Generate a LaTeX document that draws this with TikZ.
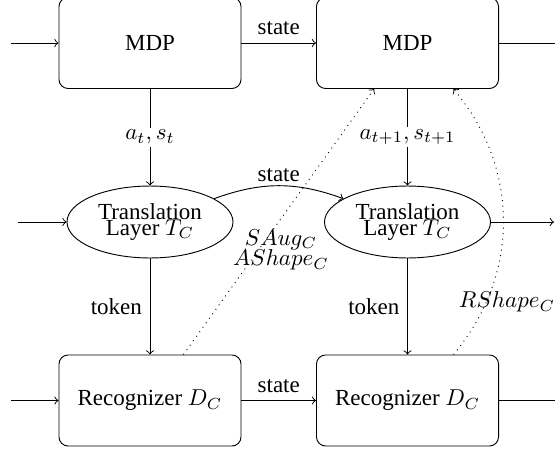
\documentclass[tikz,border=0pt]{standalone}
\usepackage[no-math]{fontspec}
\setmainfont{Liberation Serif}
\usetikzlibrary{shapes.geometric}
\begin{document}
\begin{tikzpicture}[x=0.435pt,y=0.435pt,
 box/.style={draw,rounded corners=4pt,minimum width=79.2pt,minimum height=39.6pt,inner sep=0pt},
 tl/.style={draw,ellipse,minimum width=72.2pt,minimum height=31.3pt,inner sep=0pt,align=center},
 conn/.style={->},
 aux/.style={dotted,->}]
\useasboundingbox (0,0) rectangle (555,-451);
\clip (0,0) rectangle (555,-451);
% nodes
\node[box] (M1) at (150,-43) {MDP};
\node[box] (M2) at (407.5,-43) {MDP};
\node[tl] (T1) at (150,-222) {Translation\\[-5pt]Layer $T_C$};
\node[tl] (T2) at (407.5,-222) {Translation\\[-5pt]Layer $T_C$};
\node[box] (R1) at (150,-400.5) {Recognizer $D_C$};
\node[box] (R2) at (407.5,-400.5) {Recognizer $D_C$};
% free ends
\coordinate (iM) at (11,-43);
\coordinate (iT) at (18,-222);
\coordinate (iR) at (11,-400.5);
\coordinate (oM) at (563,-43);
\coordinate (oT) at (554,-222);
\coordinate (oR) at (563,-400.5);
% inputs / outputs
\draw[conn] (iM) -- (M1);
\draw[conn] (iT) -- (T1);
\draw[conn] (iR) -- (R1);
\draw[conn] (M2) -- (oM);
\draw[conn] (T2) -- (oT);
\draw[conn] (R2) -- (oR);
% horizontal state links
\draw[conn] (M1) -- node[above] (s1) {state} (M2);
\draw[conn] (T1) to[bend left=20] node[above,inner sep=1.5pt] (s2) {state} (T2);
\draw[conn] (R1) -- node[above] (s3) {state} (R2);
% vertical links
\draw[conn] (M1) -- node[fill=white,inner sep=1pt] (l1) {$a_t, s_t$} (T1);
\draw[conn] (M2) -- node[fill=white,inner sep=1pt] (l2) {$a_{t+1}, s_{t+1}$} (T2);
\draw[conn] (T1) -- node[left] (k1) {token} (R1);
\draw[conn] (T2) -- node[left] (k2) {token} (R2);
% dotted feedback
\draw[aux] (R1.54) -- (M2.234);
\draw[aux] (R2.45) to[bend right=40] (M2.-45);
\node[align=center] (la) at (281,-250) {$SAug_C$\\[-3pt]$AShape_C$};
\node (lr) at (507,-302) {$RShape_C$};
\end{tikzpicture}
\end{document}
